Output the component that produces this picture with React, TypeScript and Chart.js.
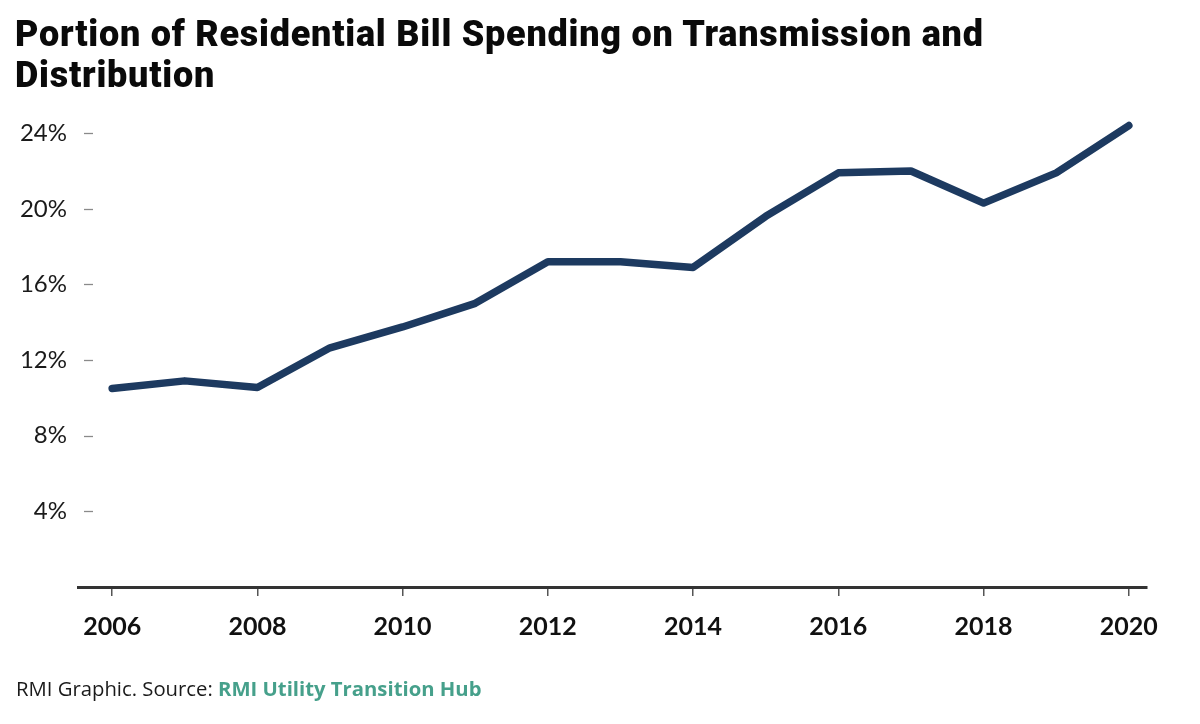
import React, { useEffect, useRef } from "react";
import { Chart, registerables } from "chart.js";

Chart.register(...registerables);

const years = [2006, 2007, 2008, 2009, 2010, 2011, 2012, 2013, 2014, 2015, 2016, 2017, 2018, 2019, 2020];
const tdShare = [10.5, 10.9, 10.55, 12.65, 13.75, 15.0, 17.2, 17.2, 16.9, 19.6, 21.9, 22.0, 20.3, 21.9, 24.4];
const yTicks = [4, 8, 12, 16, 20, 24];
const xTicks = [2006, 2008, 2010, 2012, 2014, 2016, 2018, 2020];

const titleLines = ["Portion of Residential Bill Spending on Transmission and", "Distribution"];
const sourcePrefix = "RMI Graphic. Source: ";
const sourceLink = "RMI Utility Transition Hub";

const LINE_COLOR = "#1d3a60";

const yDashPlugin = {
  id: "yDash",
  afterDraw(chart: any) {
    const { ctx, chartArea, scales } = chart;
    const y = scales.y;
    ctx.save();
    ctx.strokeStyle = "#8a8a8a";
    ctx.lineWidth = 1.3;
    for (const v of yTicks) {
      const py = Math.round(y.getPixelForValue(v)) + 0.5;
      ctx.beginPath();
      ctx.moveTo(chartArea.left + 6, py);
      ctx.lineTo(chartArea.left + 15, py);
      ctx.stroke();
    }
    ctx.restore();
  },
};

export default function App() {
  const canvasRef = useRef<HTMLCanvasElement | null>(null);

  useEffect(() => {
    const canvas = canvasRef.current;
    if (!canvas) return;
    const chart = new Chart(canvas, {
      type: "line",
      data: {
        datasets: [
          {
            data: years.map((yr, i) => ({ x: yr, y: tdShare[i] })),
            borderColor: LINE_COLOR,
            borderWidth: 7.5,
            pointRadius: 0,
            tension: 0,
            borderCapStyle: "round",
            borderJoinStyle: "round",
          },
        ],
      },
      options: {
        responsive: false,
        animation: false,
        devicePixelRatio: 1,
        layout: { padding: { left: 0, right: 53, top: 118, bottom: 0 } },
        plugins: { legend: { display: false }, tooltip: { enabled: false }, title: { display: false } },
        scales: {
          x: {
            type: "linear",
            min: 2005.53,
            max: 2020.25,
            afterBuildTicks: (axis: any) => {
              axis.ticks = xTicks.map((v) => ({ value: v }));
            },
            afterFit: (axis: any) => {
              axis.height = 137;
            },
            border: { display: true, color: "#333333", width: 3 },
            grid: { drawOnChartArea: false, drawTicks: true, tickLength: 9, color: "#555555", lineWidth: 1.5 },
            ticks: {
              padding: 16,
              color: "#111111",
              font: { family: "Lato", size: 25, weight: "bold" },
              callback: (v: any) => String(v),
              maxRotation: 0,
              autoSkip: false,
            },
          },
          y: {
            type: "linear",
            min: 0,
            max: 24.8,
            afterBuildTicks: (axis: any) => {
              axis.ticks = yTicks.map((v) => ({ value: v }));
            },
            afterFit: (axis: any) => {
              axis.width = 78;
            },
            border: { display: false },
            grid: { display: false, drawTicks: false, tickLength: 0 },
            ticks: {
              padding: 11,
              color: "#1a1a1a",
              font: { family: "Lato", size: 24, weight: "normal" },
              callback: (v: any) => v + "%",
            },
          },
        },
      },
      plugins: [yDashPlugin],
    } as any);
    return () => chart.destroy();
  }, []);

  return (
    <div
      style={{
        position: "absolute",
        left: 0,
        top: 0,
        width: 1200,
        height: 724,
        background: "#ffffff",
        overflow: "hidden",
      }}
    >
      <canvas
        ref={canvasRef}
        width={1200}
        height={724}
        style={{ position: "absolute", left: 0, top: 0, width: 1200, height: 724 }}
      />
      <div
        style={{
          position: "absolute",
          left: 15,
          top: 14,
          fontFamily: "Roboto, sans-serif",
          fontWeight: 900,
          fontSize: 36,
          letterSpacing: "0.75px",
          lineHeight: "41px",
          color: "#0a0a0a",
          whiteSpace: "nowrap",
        }}
      >
        {titleLines.map((t, i) => (
          <div key={i}>{t}</div>
        ))}
      </div>
      <div
        style={{
          position: "absolute",
          left: 16,
          top: 675,
          fontFamily: "'Open Sans', sans-serif",
          fontSize: 20.3,
          lineHeight: "26px",
          color: "#1a1a1a",
          whiteSpace: "nowrap",
        }}
      >
        {sourcePrefix}
        <span style={{ color: "#46a08b", fontWeight: 700 }}>{sourceLink}</span>
      </div>
    </div>
  );
}
